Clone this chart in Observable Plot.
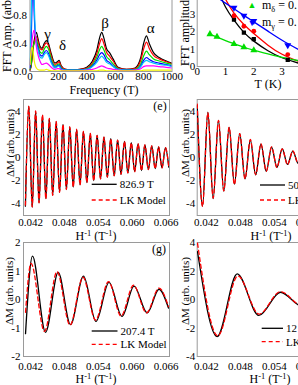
<!DOCTYPE html>
<html><head><meta charset="utf-8">
<script src="https://cdn.jsdelivr.net/npm/d3@7"></script>
<script src="https://cdn.jsdelivr.net/npm/@observablehq/plot@0.6"></script>
<style>
html,body{margin:0;padding:0;background:#fff;}
#fig{position:relative;width:298px;height:385px;overflow:hidden;background:#fff;font-family:"Liberation Serif","Times New Roman",serif;color:#000;}
.lab{position:absolute;white-space:nowrap;line-height:1;}
.lab sup{font-size:70%;vertical-align:0;position:relative;top:-0.45em;}
.lab sub{font-size:70%;vertical-align:0;position:relative;top:0.3em;}
</style></head><body><div id="fig"></div>
<script>
// ---------- data: FFT spectra (top-left) ----------
const FREQ = [0, 8, 15, 22, 30, 38, 45, 55, 70, 85, 100, 115, 130, 150, 175, 193, 205, 220, 250, 300, 350, 400, 440, 470, 490, 505, 520, 540, 560, 585, 620, 680, 740, 780, 800, 820, 840, 870, 910, 960, 1000];
const AMP_K = [0.02,0.08,0.2,0.35,0.45,0.53,0.56, 0.48,0.36,0.33,0.4,0.44,0.4,0.25, 0.12,0.14,0.16,0.08,0.03,0.02,0.03, 0.06,0.15,0.3,0.48,0.56,0.48,0.32, 0.27,0.18,0.06,0.03,0.05,0.2,0.4, 0.51,0.4,0.27,0.2,0.15,0.12];
const AMP_R = [0.02,0.08,0.2,0.33,0.42,0.48,0.5, 0.44,0.33,0.31,0.37,0.41,0.37,0.22, 0.1,0.12,0.14,0.07,0.03,0.02,0.03, 0.05,0.12,0.25,0.4,0.47,0.4,0.27, 0.22,0.15,0.05,0.03,0.04,0.16,0.32, 0.42,0.33,0.23,0.18,0.14,0.11];
const AMP_G = [0.03,0.1,0.25,0.35,0.4,0.44,0.45, 0.39,0.28,0.26,0.32,0.36,0.32,0.18, 0.08,0.1,0.11,0.05,0.02,0.02,0.02, 0.04,0.1,0.2,0.31,0.36,0.31,0.21, 0.17,0.11,0.04,0.02,0.03,0.11,0.22, 0.29,0.24,0.18,0.15,0.12,0.1];
const AMP_B = [0.05,0.4,1.0,1.3,0.8,0.5,0.42, 0.35,0.24,0.22,0.27,0.3,0.26,0.14, 0.06,0.08,0.09,0.04,0.02,0.02,0.02, 0.03,0.08,0.16,0.24,0.27,0.24,0.16, 0.13,0.08,0.03,0.02,0.02,0.08,0.16, 0.2,0.17,0.14,0.12,0.1,0.08];
const AMP_C = [0.1,0.7,1.5,1.8,1.0,0.55,0.4, 0.32,0.21,0.19,0.24,0.27,0.23,0.12, 0.05,0.07,0.08,0.03,0.02,0.02,0.02, 0.03,0.07,0.13,0.19,0.22,0.19,0.13, 0.11,0.07,0.03,0.02,0.02,0.07,0.13, 0.16,0.14,0.12,0.1,0.09,0.07];
const AMP_M = [0.1,0.3,0.45,0.55,0.59,0.5,0.35, 0.25,0.15,0.1,0.11,0.12,0.1,0.06, 0.03,0.04,0.04,0.02,0.01,0.01,0.01, 0.02,0.03,0.05,0.07,0.08,0.07,0.05, 0.04,0.03,0.02,0.01,0.02,0.04,0.07, 0.08,0.08,0.08,0.07,0.06,0.05];
const AMP_Y = [0.1,0.3,0.35,0.28,0.15,0.08,0.05, 0.03,0.02,0.02,0.02,0.03,0.02,0.01, 0.01,0.01,0.01,0.01,0.01,0.01,0.01, 0.01,0.01,0.01,0.02,0.02,0.02,0.01, 0.01,0.01,0.01,0.01,0.01,0.01,0.02, 0.02,0.02,0.02,0.02,0.02,0.02];
const FREQ_TICKS = [0, 200, 400, 600, 800, 1000];
const AMP_TICKS = [0, 0.4, 0.8, 1.2];
const PEAK_NAMES = ["γ", "δ", "β", "α"];
const PEAK_LX = [123, 229, 528, 849];
const PEAK_LY = [0.54, 0.37, 0.69, 0.62];

// ---------- data: FFT amplitude vs T (top-right) ----------
const FIT_T = [0.75, 1.0, 1.3, 1.65, 2.0, 2.5, 3.0, 3.6];
const FIT_K = [4.3, 3.4, 2.65, 1.95, 1.45, 0.9, 0.5, 0.18];
const FIT_R = [4.7, 3.85, 3.05, 2.4, 1.88, 1.22, 0.7, 0.28];
const FIT_B = [3.9, 3.62, 3.3, 2.92, 2.55, 2.02, 1.5, 0.95];
const FIT_G_T = [0.4, 0.7, 1.0, 1.3, 1.65, 2.0, 2.5, 3.0, 3.6];
const FIT_G = [1.86, 1.68, 1.48, 1.3, 1.1, 0.93, 0.72, 0.52, 0.33];
const PT_T = [1.3, 1.65, 2.0, 3.2];
const PT_K = [2.68, 1.93, 1.57, 0.38];
const PT_R = [2.9, 2.3, 2.02, 0.68];
const PT_B = [3.36, 2.9, 2.6, 1.22];
const PT_G_T = [0.45, 0.7, 1.3, 1.65, 2.0];
const PT_G = [1.85, 1.7, 1.28, 1.1, 0.93];
const T_TICKS = [0, 1, 2, 3, 4];
const A_TICKS = [0, 1, 2, 3, 4];

// ---------- data: oscillations (e) 826.9 T ----------
const E_H = [0.04110, 0.04170, 0.04230, 0.04291, 0.04351, 0.04412, 0.04472, 0.04533, 0.04593, 0.04654, 0.04714, 0.04775, 0.04835, 0.04895, 0.04956, 0.05016, 0.05077, 0.05137, 0.05198, 0.05258, 0.05319, 0.05379, 0.05440, 0.05500, 0.05560, 0.05621, 0.05681, 0.05742, 0.05802, 0.05863, 0.05923, 0.05984, 0.06044, 0.06104, 0.06165, 0.06225, 0.06286, 0.06346, 0.06407, 0.06467, 0.06528, 0.06588, 0.06648];
const E_DATA = [-4.2, 4.43, -4.3, 4.0, -3.9, 3.66, -3.55, 3.37, -3.25, 3.09, -3.0, 2.86, -2.75, 2.63, -2.55, 2.43, -2.35, 2.25, -2.17, 2.07, -2.0, 1.9, -1.84, 1.76, -1.7, 1.62, -1.57, 1.5, -1.45, 1.38, -1.33, 1.27, -1.22, 1.17, -1.13, 1.08, -1.04, 1.0, -0.96, 0.92, -0.89, 0.85, -0.83];
const E_LK = [-4.1, 4.4, -4.25, 4.02, -3.9, 3.68, -3.56, 3.38, -3.26, 3.1, -3.0, 2.86, -2.76, 2.63, -2.55, 2.43, -2.35, 2.24, -2.17, 2.07, -2.0, 1.91, -1.84, 1.76, -1.7, 1.62, -1.57, 1.5, -1.45, 1.38, -1.33, 1.27, -1.23, 1.17, -1.13, 1.08, -1.04, 1.0, -0.96, 0.92, -0.89, 0.85, -0.83];
// (f) 50x T
const F_H = [0.04036, 0.04130, 0.04224, 0.04318, 0.04412, 0.04506, 0.04600, 0.04694, 0.04788, 0.04882, 0.04976, 0.05070, 0.05164, 0.05258, 0.05352, 0.05446, 0.05540, 0.05634, 0.05728, 0.05822, 0.05916];
const F_DATA = [4.46, -4.2, 3.9, -3.55, 3.2, -2.9, 2.6, -2.3, 2.05, -1.85, 1.5, -1.5, 1.15, -1.2, 0.9, -0.85, 0.75, -0.6, 0.55, -0.5, 0.45];
const F_LK = [4.6, -4.2, 3.85, -3.5, 3.2, -2.88, 2.6, -2.32, 2.06, -1.84, 1.55, -1.48, 1.18, -1.18, 0.92, -0.86, 0.75, -0.62, 0.56, -0.5, 0.45];
// (g) 207.4 T
const G_H = [0.04112, 0.04235, 0.04466, 0.04690, 0.04908, 0.05138, 0.05359, 0.05589, 0.05820, 0.06032, 0.06266, 0.06474, 0.06642];
const G_DATA = [-1.2, 1.52, -1.15, 0.95, -0.88, 0.82, -0.77, 0.6, -0.59, 0.47, -0.47, 0.36, -0.3];
const G_LK_H = [0.04112, 0.04209, 0.04448, 0.04669, 0.04899, 0.05129, 0.05350, 0.05581, 0.05802, 0.06023, 0.06253, 0.06474, 0.06642];
const G_LK = [-0.45, 1.27, -1.12, 0.98, -0.9, 0.78, -0.72, 0.63, -0.58, 0.5, -0.47, 0.4, -0.25];
// (h) 12x T
const H_H = [0.04041, 0.04389, 0.04743, 0.05126, 0.05510, 0.05881, 0.06253];
const H_DATA = [3.35, -2.6, 1.8, -1.12, 0.51, -0.45, 0.3];
const H_LK_H = [0.04041, 0.04400, 0.04755, 0.05130, 0.05510, 0.05881, 0.06253];
const H_LK = [3.95, -2.55, 1.65, -1.02, 0.55, -0.4, 0.28];
const HINV_TICKS = [0.042, 0.048, 0.054, 0.060, 0.066];
const DM_TICKS_4 = [-4, -2, 0, 2, 4];
const DM_TICKS_2 = [-2, -1, 0, 1, 2];

// ---------- drawing ----------
const fig = document.getElementById("fig");
const W = 360, H = 440, OY = 40;
const FONT = '"Liberation Serif", "Times New Roman", serif';
const FRAME = "#9a9a9a";
const fmtPlain = d => String(d);

function panel(box, opts) {
  const [L, T, R, B] = box;
  const svg = Plot.plot({
    width: W, height: H,
    marginLeft: L, marginRight: W - R, marginTop: T + OY, marginBottom: H - OY - B,
    style: {background: "transparent", fontFamily: FONT, fontSize: "11px", color: "#000", maxWidth: "none"},
    ...opts
  });
  svg.style.position = "absolute";
  svg.style.left = "0px";
  svg.style.top = (-OY) + "px";
  fig.appendChild(svg);
}
const axX = (domain, ticks, fmt, pad = 3) => ({domain, ticks, tickFormat: fmt, tickSize: 0, tickPadding: pad, label: null});
const axY = (domain, ticks, fmt, pad = 3) => ({domain, ticks, tickFormat: fmt, tickSize: 0, tickPadding: pad, label: null});
const line = (xs, ys, o) => Plot.line(xs, {x: d => d, y: (d, i) => ys[i], curve: "monotone-x", clip: true, ...o});
const solid = {stroke: "#000", strokeWidth: 1.3};
const dashed = {stroke: "#ff0000", strokeWidth: 1.3, strokeDasharray: "4,3"};

// top-left: FFT spectra
const fftSeries = [[AMP_K, "#000000"], [AMP_R, "#ff0000"], [AMP_G, "#00e000"], [AMP_B, "#0000ff"], [AMP_C, "#00c0ff"], [AMP_M, "#ff00ff"], [AMP_Y, "#f2f200"]];
panel([29.5, -13, 171.5, 71], {
  x: axX([0, 1000], FREQ_TICKS, d3.format("d"), 1),
  y: axY([0, 1.2], AMP_TICKS, d3.format(".1f")),
  marks: [
    Plot.frame({stroke: FRAME}),
    ...fftSeries.map(([v, c]) => line(FREQ, v, {stroke: c, strokeWidth: 1.2})),
    Plot.text(PEAK_NAMES, {x: (d, i) => PEAK_LX[i], y: (d, i) => PEAK_LY[i], text: d => d, fontSize: 15})
  ]
});

// top-right: amplitude vs temperature
panel([196.7, -12.75, 309.9, 66], {
  x: axX([0, 4], T_TICKS, fmtPlain, 1),
  y: axY([0, 4.5], A_TICKS, fmtPlain, 2),
  marks: [
    Plot.frame({stroke: FRAME}),
    line(FIT_T, FIT_K, {stroke: "#000", strokeWidth: 1.3, curve: "natural"}),
    line(FIT_T, FIT_R, {stroke: "#ff0000", strokeWidth: 1.3, curve: "natural"}),
    line(FIT_T, FIT_B, {stroke: "#0000ff", strokeWidth: 1.3, curve: "natural"}),
    line(FIT_G_T, FIT_G, {stroke: "#00dd00", strokeWidth: 1.3, curve: "natural"}),
    Plot.dot(PT_T, {x: d => d, y: (d, i) => PT_K[i], symbol: "square", r: 2.4, fill: "#000", clip: true}),
    Plot.dot(PT_T, {x: d => d, y: (d, i) => PT_R[i], symbol: "circle", r: 2.4, fill: "#ff0000", clip: true}),
    Plot.dot(PT_T, {x: d => d, y: (d, i) => PT_B[i], symbol: "triangle", rotate: 180, r: 2.6, fill: "#0000ff", clip: true}),
    Plot.dot(PT_G_T, {x: d => d, y: (d, i) => PT_G[i], symbol: "triangle", r: 2.6, fill: "#00dd00", clip: true})
  ]
});

// (e)
const LEFT = [0.040761, 0.066602], RIGHT = [0.040354, 0.066779];
panel([23, 99, 169, 215], {
  x: axX(LEFT, HINV_TICKS, d3.format(".3f")),
  y: axY([-5, 5], DM_TICKS_4, fmtPlain),
  marks: [Plot.frame({stroke: FRAME}), line(E_H, E_DATA, solid), line(E_H, E_LK, dashed)]
});
// (f)
panel([196.7, 99, 346, 215], {
  x: axX(RIGHT, HINV_TICKS, d3.format(".3f")),
  y: axY([-5, 5], DM_TICKS_4, fmtPlain, 2),
  marks: [Plot.frame({stroke: FRAME}), line(F_H, F_DATA, solid), line(F_H, F_LK, dashed)]
});
// (g)
panel([23, 242, 169, 356], {
  x: axX(LEFT, HINV_TICKS, d3.format(".3f"), 5.5),
  y: axY([-2, 2], DM_TICKS_2, fmtPlain),
  marks: [Plot.frame({stroke: FRAME}), line(G_H, G_DATA, solid), line(G_LK_H, G_LK, dashed)]
});
// (h)
panel([196.7, 242, 346, 356], {
  x: axX(RIGHT, HINV_TICKS, d3.format(".3f"), 5.5),
  y: axY([-4, 4], DM_TICKS_4, fmtPlain, 2),
  marks: [Plot.frame({stroke: FRAME}), line(H_H, H_DATA, solid), line(H_LK_H, H_LK, dashed)]
});

// ---------- text labels ----------
function label(html, x, y, size, mode) {
  const d = document.createElement("div");
  d.className = "lab";
  d.style.fontSize = size + "px";
  d.innerHTML = html;
  if (mode === "rot") {
    d.style.left = (x - size / 2) + "px"; d.style.top = y + "px";
    d.style.transformOrigin = "0 0"; d.style.transform = "rotate(-90deg)";
  } else if (mode === "left") {
    d.style.left = x + "px"; d.style.top = y + "px"; d.style.transform = "translate(0,-50%)";
  } else {
    d.style.left = x + "px"; d.style.top = y + "px"; d.style.transform = "translate(-50%,-50%)";
  }
  fig.appendChild(d);
}
label("FFT Amp. (arb. units)", 7, 72, 12, "rot");
label("Frequency (T)", 104, 89.5, 12);
label("FFT amplitude (arb. units)", 184.5, 66, 12, "rot");
label("T (K)", 268, 83.5, 12);
label('<span style="color:#00dd00;font-size:9px">▲</span>', 252, 4, 12);
label("m<sub>δ</sub> = 0.", 262, 5, 12, "left");
label('<span style="color:#0000ff;font-size:9px">▼</span>', 252, 21.5, 12);
label("m<sub>γ</sub> = 0.", 262, 22, 12, "left");
const hinv = "H<sup>-1</sup> (T<sup>-1</sup>)";
const dm = "ΔM (arb. units)";
label(dm, 10, 177, 11, "rot");
label(dm, 185.5, 177, 11, "rot");
label(dm, 9, 325, 11, "rot");
label(dm, 185, 325, 11, "rot");
label(hinv, 96, 236, 12);
label(hinv, 271, 236, 12);
label(hinv, 96, 379, 12);
label(hinv, 270, 379, 12);
label("(e)", 160, 106, 12);
label("(g)", 159, 249, 12);

// legends
const NS = "http://www.w3.org/2000/svg";
const ov = document.createElementNS(NS, "svg");
ov.setAttribute("width", 298); ov.setAttribute("height", 385);
ov.style.position = "absolute"; ov.style.left = "0px"; ov.style.top = "0px";
fig.appendChild(ov);
function sample(x1, x2, y, dash) {
  const l = document.createElementNS(NS, "line");
  l.setAttribute("x1", x1); l.setAttribute("x2", x2); l.setAttribute("y1", y); l.setAttribute("y2", y);
  l.setAttribute("stroke", dash ? "#ff0000" : "#000"); l.setAttribute("stroke-width", 1.3);
  if (dash) l.setAttribute("stroke-dasharray", "4,3");
  ov.appendChild(l);
}
function legend(x1, x2, y1, y2, name) {
  sample(x1, x2, y1, false); sample(x1, x2, y2, true);
  label(name, x2 + 3, y1, 11, "left");
  label("LK Model", x2 + 3, y2, 11, "left");
}
legend(91.7, 116.7, 184.3, 200, "826.9 T");
legend(260, 285, 185, 200, "50");
legend(91.7, 117.5, 331, 344.3, "207.4 T");
legend(261.7, 283, 328.3, 341.7, "12");
</script></body></html>
